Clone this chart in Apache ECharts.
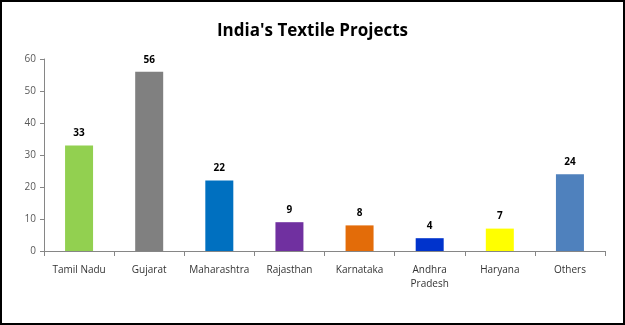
<!DOCTYPE html>
<html><head><meta charset="utf-8">
<script src="https://cdn.jsdelivr.net/npm/echarts@6/dist/echarts.min.js"></script>
<style>html,body{margin:0;padding:0;background:#fff}#c{width:625px;height:325px}</style>
</head><body><div id="c"></div>
<script>
const categories = ['Tamil Nadu','Gujarat','Maharashtra','Rajasthan','Karnataka','Andhra\nPradesh','Haryana','Others'];
const values = [33,56,22,9,8,4,7,24];
const colors = ['#92D050','#808080','#0070C0','#7030A0','#E36C09','#0033CC','#FFFF00','#4F81BD'];
const yTicks = [0,10,20,30,40,50,60];

const chart = echarts.init(document.getElementById('c'));
chart.setOption({
  animation:false,
  backgroundColor:'#fff',
  title:{text:"India's Textile Projects",left:'center',top:18,textStyle:{fontFamily:'Open Sans',fontWeight:'bold',fontSize:17,color:'#000'}},
  graphic:[{type:'rect',shape:{x:1,y:1,width:623,height:323},style:{fill:'none',stroke:'#000',lineWidth:2}}],
  grid:{left:44,right:20,top:59,bottom:74},
  xAxis:{type:'category',data:categories,
    axisLine:{lineStyle:{color:'#868686',width:1}},
    axisTick:{show:true,length:5,alignWithLabel:false,lineStyle:{color:'#868686'}},
    axisLabel:{color:'#333',fontFamily:'Open Sans',fontSize:10,margin:12,lineHeight:14,interval:0}},
  yAxis:{type:'value',min:0,max:60,interval:10,
    axisLine:{show:true,lineStyle:{color:'#868686'}},
    axisTick:{show:true,length:4,lineStyle:{color:'#868686'}},
    splitLine:{show:false},
    axisLabel:{color:'#595959',fontFamily:'Open Sans',fontSize:10,margin:8,formatter:v=>yTicks.includes(v)?String(v):''}},
  series:[{type:'bar',barWidth:28,
    data:values.map((v,i)=>({value:v,itemStyle:{color:colors[i]}})),
    label:{show:true,position:'top',distance:7,fontFamily:'Open Sans',fontWeight:'bold',fontSize:10,color:'#000'}}]
});
</script></body></html>
